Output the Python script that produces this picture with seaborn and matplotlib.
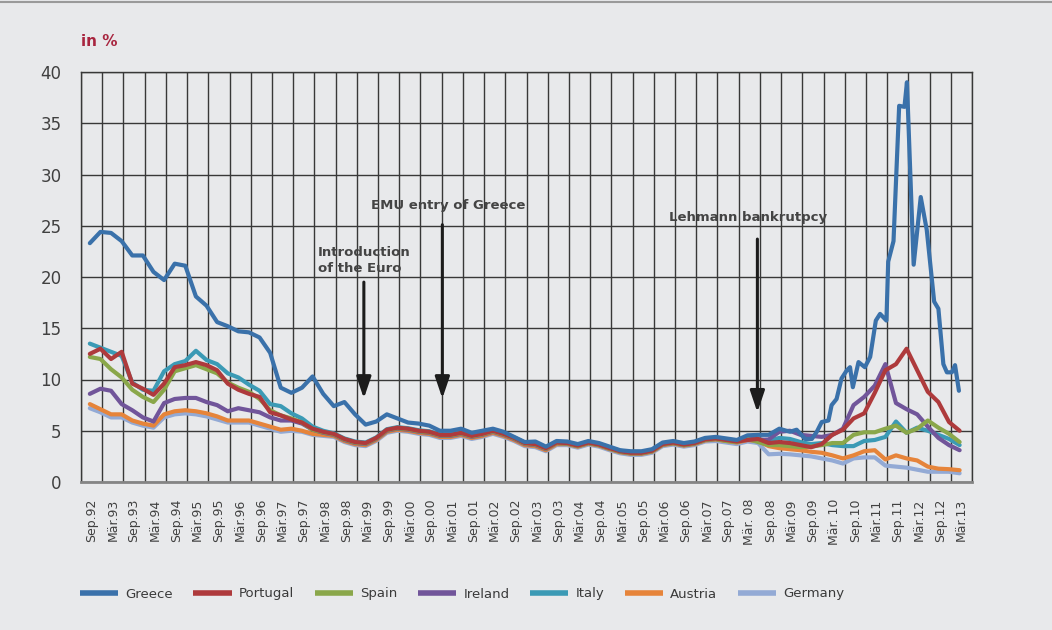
import numpy as np
import pandas as pd
import matplotlib
matplotlib.use("Agg")
import matplotlib.pyplot as plt
from matplotlib.lines import Line2D
import seaborn as sns

# ---------------- data ----------------
# x axis: months since September 1992 (category axis, 6-month groups)
countries = ["Greece", "Portugal", "Spain", "Ireland", "Italy", "Austria", "Germany"]
colors = ["#3a71aa", "#ae3a3c", "#8aa74a", "#71559a", "#3b9ab5", "#e6843a", "#93aad5"]

tick_labels = ["Sep.92", "Mär.93", "Sep.93", "Mär.94", "Sep.94", "Mär.95", "Sep.95", "Mär.96",
               "Sep.96", "Mär.97", "Sep.97", "Mär.98", "Sep.98", "Mär.99", "Sep.99", "Mär.00",
               "Sep.00", "Mär.01", "Sep.01", "Mär.02", "Sep.02", "Mär.03", "Sep.03", "Mär.04",
               "Sep.04", "Mär.05", "Sep.05", "Mär.06", "Sep.06", "Mär.07", "Sep.07", "Mär. 08",
               "Sep.08", "Mär.09", "Sep.09", "Mär. 10", "Sep.10", "Mär.11", "Sep.11", "Mär.12",
               "Sep.12", "Mär.13"]

months = 2.5 + 3 * np.arange(83)  # sampling grid (quarterly) in months since Sep.92

greece_head = [23.3, 24.4, 24.3, 23.5, 22.1, 22.1, 20.5, 19.7, 21.3, 21.1,
               18.1, 17.2, 15.6, 15.2, 14.7, 14.6, 14.1, 12.6, 9.2, 8.7,
               9.2, 10.3, 8.6, 7.4, 7.8, 6.6, 5.6, 5.9, 6.6, 6.2,
               5.8, 5.7, 5.5, 5.0, 5.0, 5.2, 4.8, 5.0, 5.2, 4.9,
               4.4, 3.9, 3.95, 3.45, 4.0, 3.95, 3.7, 4.0, 3.8, 3.45,
               3.1, 3.0, 3.0, 3.2, 3.85, 4.0, 3.8, 3.95, 4.3, 4.4,
               4.25, 4.1, 4.55, 4.6, 4.6, 5.2]
greece_tail_months = [200.5, 202.4, 204.8, 206.7, 208.1, 209.5, 211.4, 212.3, 213.7, 215.1,
                      216.6, 217.5, 218.3, 219.9, 221.7, 223.2, 224.8, 226.0, 227.8, 228.3,
                      229.8, 231.4, 232.9, 233.6, 235.5, 237.5, 239.2, 241.3, 242.5, 243.9,
                      244.9, 246.3, 247.2, 248.3]
greece_tail = [4.9, 5.1, 4.2, 4.2, 4.9, 5.85, 6.0, 7.5, 8.1, 10.1,
               10.9, 11.2, 9.25, 11.7, 11.2, 12.2, 15.75, 16.4, 15.75, 21.5,
               23.5, 36.7, 36.6, 39.0, 21.2, 27.8, 24.6, 17.6, 16.9, 11.5,
               10.7, 10.7, 11.4, 8.9]

portugal = [12.5, 13.0, 12.0, 12.7, 9.6, 9.1, 8.5, 9.6, 11.2, 11.4,
            11.7, 11.4, 10.9, 9.6, 9.0, 8.6, 8.3, 6.8, 6.5, 6.1,
            5.8, 5.2, 4.9, 4.7, 4.2, 3.9, 3.8, 4.3, 5.1, 5.3,
            5.2, 5.0, 4.9, 4.6, 4.6, 4.8, 4.5, 4.7, 5.0, 4.7,
            4.3, 3.8, 3.7, 3.3, 3.85, 3.8, 3.55, 3.85, 3.65, 3.3,
            3.0, 2.85, 2.85, 3.05, 3.7, 3.85, 3.65, 3.8, 4.15, 4.25,
            4.1, 3.95, 4.1, 4.2, 3.8, 3.9, 3.8, 3.6, 3.4, 3.7,
            4.6, 5.1, 6.2, 6.7, 8.7, 10.9, 11.5, 13.0, 10.9, 8.8,
            7.8, 5.85, 5.0]
spain = [12.2, 12.0, 11.0, 10.2, 9.0, 8.3, 7.8, 9.0, 10.8, 11.1,
         11.4, 11.0, 10.6, 9.7, 9.2, 8.8, 8.1, 7.0, 6.5, 6.2,
         5.8, 5.1, 4.85, 4.65, 4.15, 3.85, 3.75, 4.25, 5.05, 5.25,
         5.15, 4.95, 4.85, 4.55, 4.55, 4.75, 4.45, 4.65, 4.95, 4.65,
         4.25, 3.75, 3.65, 3.25, 3.8, 3.75, 3.5, 3.8, 3.6, 3.25,
         2.95, 2.8, 2.8, 3.0, 3.65, 3.8, 3.6, 3.75, 4.1, 4.2,
         4.0, 3.9, 4.2, 3.9, 3.6, 3.6, 3.5, 3.4, 3.45, 3.6,
         3.8, 3.8, 4.6, 4.85, 4.85, 5.2, 5.5, 4.8, 5.2, 6.0,
         5.3, 4.7, 3.9]
ireland = [8.6, 9.1, 8.9, 7.6, 7.0, 6.3, 5.9, 7.7, 8.1, 8.2,
           8.2, 7.8, 7.5, 6.9, 7.2, 7.0, 6.8, 6.3, 6.0, 6.0,
           5.7, 5.1, 4.8, 4.6, 4.1, 3.8, 3.7, 4.2, 5.0, 5.2,
           5.1, 4.9, 4.8, 4.5, 4.5, 4.7, 4.4, 4.6, 4.9, 4.6,
           4.2, 3.7, 3.6, 3.2, 3.8, 3.75, 3.5, 3.8, 3.6, 3.25,
           2.95, 2.8, 2.8, 3.0, 3.65, 3.8, 3.6, 3.75, 4.1, 4.2,
           4.05, 3.95, 4.25, 4.1, 4.15, 4.9, 5.0, 4.6, 4.5, 4.4,
           4.6, 5.2, 7.5, 8.3, 9.4, 11.5, 7.7, 7.1, 6.6, 5.4,
           4.3, 3.6, 3.1]
italy = [13.5, 13.1, 12.7, 12.3, 9.7, 9.0, 8.9, 10.8, 11.5, 11.8,
         12.8, 11.9, 11.5, 10.6, 10.2, 9.5, 8.9, 7.6, 7.4, 6.7,
         6.2, 5.4, 5.0, 4.75, 4.25, 3.95, 3.85, 4.35, 5.15, 5.35,
         5.25, 5.05, 4.95, 4.65, 4.65, 4.85, 4.55, 4.75, 5.05, 4.75,
         4.35, 3.85, 3.75, 3.35, 3.9, 3.85, 3.6, 3.9, 3.7, 3.35,
         3.05, 2.9, 2.9, 3.1, 3.75, 3.9, 3.7, 3.85, 4.2, 4.3,
         4.15, 4.0, 4.35, 4.2, 4.0, 4.3, 4.2, 3.9, 3.7, 3.8,
         3.6, 3.5, 3.5, 4.0, 4.1, 4.4, 5.9, 4.8, 5.3, 5.0,
         4.6, 4.2, 3.6]
austria = [7.6, 7.1, 6.6, 6.6, 6.0, 5.7, 5.5, 6.6, 6.9, 7.0,
           6.9, 6.7, 6.4, 6.0, 6.0, 6.0, 5.7, 5.4, 5.1, 5.2,
           5.0, 4.7, 4.6, 4.5, 4.0, 3.7, 3.6, 4.1, 4.9, 5.1,
           5.0, 4.8, 4.7, 4.4, 4.4, 4.6, 4.3, 4.5, 4.8, 4.5,
           4.1, 3.6, 3.5, 3.1, 3.7, 3.7, 3.45, 3.75, 3.55, 3.2,
           2.9, 2.75, 2.75, 2.95, 3.6, 3.75, 3.55, 3.7, 4.05, 4.15,
           4.0, 3.85, 4.1, 4.0, 3.5, 3.3, 3.2, 3.1, 2.95, 2.85,
           2.6, 2.3, 2.6, 3.0, 3.1, 2.2, 2.6, 2.3, 2.1, 1.5,
           1.3, 1.25, 1.15]
germany = [7.2, 6.8, 6.3, 6.3, 5.8, 5.5, 5.3, 6.3, 6.6, 6.7,
           6.6, 6.4, 6.1, 5.8, 5.8, 5.8, 5.5, 5.2, 4.9, 5.0,
           4.9, 4.6, 4.5, 4.4, 3.9, 3.6, 3.5, 4.0, 4.8, 5.0,
           4.9, 4.7, 4.6, 4.3, 4.3, 4.5, 4.2, 4.4, 4.7, 4.4,
           4.0, 3.5, 3.4, 3.0, 3.6, 3.6, 3.35, 3.65, 3.45, 3.1,
           2.8, 2.65, 2.65, 2.85, 3.5, 3.65, 3.45, 3.6, 3.95, 4.0,
           3.85, 3.7, 3.95, 3.8, 2.7, 2.75, 2.7, 2.6, 2.5, 2.3,
           2.1, 1.8, 2.3, 2.4, 2.4, 1.6, 1.5, 1.4, 1.2, 1.0,
           1.0, 1.0, 0.85]

# annotations (event month, arrow start, arrow tip, text anchor)
event_labels = ["Introduction\nof the Euro", "EMU entry of Greece", "Lehmann bankrutpcy"]
event_months = [80.0, 102.2, 191.3]
arrow_from = [19.5, 25.1, 23.7]
arrow_to = [8.15, 8.15, 6.8]
text_x = [67.0, 103.8, 188.6]
text_y = [23.0, 27.6, 26.4]
text_ha = ["left", "center", "center"]

# ---------------- build long-form table ----------------
greece_months = np.concatenate([months[:len(greece_head)], greece_tail_months])
greece = list(greece_head) + list(greece_tail)
series = {"Greece": (greece_months, greece), "Portugal": (months, portugal),
          "Spain": (months, spain), "Ireland": (months, ireland), "Italy": (months, italy),
          "Austria": (months, austria), "Germany": (months, germany)}
frames = [pd.DataFrame({"month": xs, "yield": ys, "country": name})
          for name, (xs, ys) in series.items()]
df = pd.concat(frames, ignore_index=True)
palette = dict(zip(countries, colors))

# ---------------- plot ----------------
sns.set_style("white")
plt.rcParams["font.family"] = ["DejaVu Sans"]
BG = "#e8e9eb"
GRID = "#383838"
TXT = "#404040"

fig = plt.figure(figsize=(10.52, 6.30), dpi=100, facecolor=BG)
ax = fig.add_axes([81 / 1052, 1 - 482 / 630, (972 - 81) / 1052, (482 - 72) / 630])
ax.set_facecolor(BG)

sns.lineplot(data=df, x="month", y="yield", hue="country", hue_order=countries,
             palette=palette, estimator=None, sort=False, legend=False,
             linewidth=3.0, ax=ax)
n = len(countries)
for i, line in enumerate(ax.lines[:n]):
    line.set_zorder(3 + (n - i) * 0.1)
    line.set_solid_joinstyle("round")
    line.set_solid_capstyle("round")

ax.set_xlim(0, 252)
ax.set_ylim(0, 40)
ax.set_yticks(np.arange(0, 41, 5))
ax.set_xticks(np.arange(len(tick_labels)) * 6 + 3)
ax.set_xticklabels(tick_labels, rotation=90, fontsize=9, color=TXT)
ax.set_xticks(np.arange(0, 253, 6), minor=True)
ax.tick_params(axis="y", labelsize=12, labelcolor=TXT, length=0, pad=14)
ax.tick_params(axis="x", which="both", length=0, pad=12)
ax.grid(False)
ax.grid(which="minor", axis="x", color=GRID, lw=1.0)
ax.grid(which="major", axis="y", color=GRID, lw=1.0)
ax.set_axisbelow(True)
ax.set_xlabel("")
ax.set_ylabel("")
for s in ["left", "top", "right"]:
    ax.spines[s].set_color(GRID)
    ax.spines[s].set_linewidth(1.0)
ax.spines["bottom"].set_color("#858585")
ax.spines["bottom"].set_linewidth(2.0)

for lab, m, a0, a1, tx, ty, ha in zip(event_labels, event_months, arrow_from, arrow_to,
                                      text_x, text_y, text_ha):
    ax.annotate("", xy=(m, a1), xytext=(m, a0),
                arrowprops=dict(arrowstyle="-|>,head_length=0.65,head_width=0.22",
                                color="#1c1c1c", lw=2.2, mutation_scale=20,
                                shrinkA=0, shrinkB=0), zorder=5)
    ax.text(tx, ty, lab, ha=ha, va="top", fontsize=9.5, fontweight="bold",
            color="#444444", linespacing=1.25, zorder=6)

fig.text(81 / 1052, 1 - 42 / 630, "in %", color="#a8253f", fontsize=11,
         fontweight="bold", va="center", ha="left")

handles = [Line2D([0], [0], color=c, lw=4, solid_capstyle="butt") for c in colors]
fig.legend(handles, countries, loc="center left", bbox_to_anchor=(68 / 1052, 1 - 594 / 630),
           ncol=7, frameon=False, fontsize=9.5, handlelength=2.9, handletextpad=0.55,
           columnspacing=1.55, labelcolor="#3a3a3a")

fig.add_artist(Line2D([0, 1], [1 - 1.5 / 630] * 2, color="#9a9a9a", lw=1.5))

fig.savefig("out.png", dpi=100, facecolor=BG)
